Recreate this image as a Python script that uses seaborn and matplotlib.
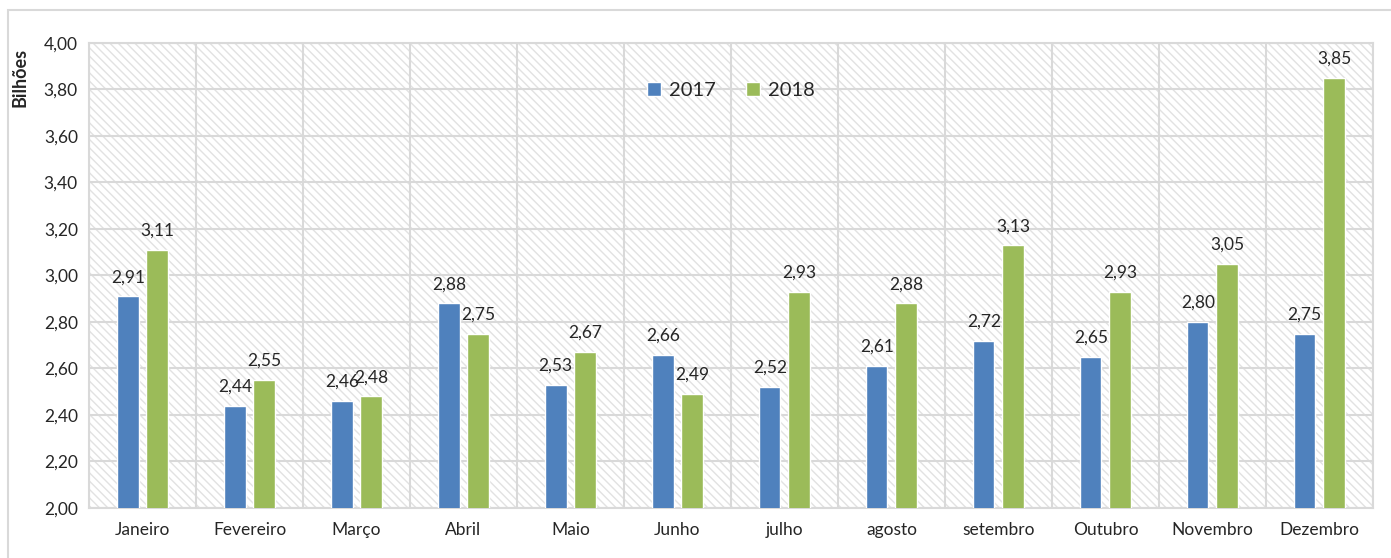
import seaborn as sns
import pandas as pd
import matplotlib.pyplot as plt
from matplotlib.patches import Rectangle

months = ["Janeiro", "Fevereiro", "Março", "Abril", "Maio", "Junho",
          "julho", "agosto", "setembro", "Outubro", "Novembro", "Dezembro"]
vals_2017 = [2.91, 2.44, 2.46, 2.88, 2.53, 2.66, 2.52, 2.61, 2.72, 2.65, 2.80, 2.75]
vals_2018 = [3.11, 2.55, 2.48, 2.75, 2.67, 2.49, 2.93, 2.88, 3.13, 2.93, 3.05, 3.85]
years = ["2017", "2018"]
y_ticks = [2.0, 2.2, 2.4, 2.6, 2.8, 3.0, 3.2, 3.4, 3.6, 3.8, 4.0]

df = pd.DataFrame({
    "mes": months * 2,
    "ano": [years[0]] * 12 + [years[1]] * 12,
    "valor": vals_2017 + vals_2018,
})

sns.set_style("white")
plt.rcParams['font.family'] = ['Lato', 'DejaVu Sans']
grid_c = "#d9d9d9"

fig = plt.figure(figsize=(13.91, 5.58), dpi=100)
ax = fig.add_axes([0.064, 0.0896, 0.923, 0.8334])

# outer chart frame
fig.patches.append(Rectangle((8 / 1391, -0.1), 1.2, 1 - 10 / 558 + 0.1,
                             transform=fig.transFigure, fill=False,
                             edgecolor=grid_c, linewidth=1.5))

sns.barplot(data=df, x="mes", y="valor", hue="ano", order=months,
            palette=["#4F81BD", "#9BBB59"], width=0.55, gap=0.27,
            saturation=1, ax=ax, zorder=3)

# hatched plot area background
ax.add_patch(Rectangle((0, 0), 1, 1, transform=ax.transAxes, facecolor="white",
                       hatch="\\\\\\\\", edgecolor="#e2e2e2", linewidth=0, zorder=0))

ax.set_ylim(2.0, 4.0)
ax.set_xlim(-0.5, 11.5)
ax.set_yticks(y_ticks)
ax.set_yticklabels([f"{v:.2f}".replace(".", ",") for v in y_ticks], fontsize=12.5)
ax.set_xticks(range(12))
ax.set_xticklabels(months, fontsize=12.5)
ax.tick_params(axis="x", length=0, pad=10)
ax.tick_params(axis="y", length=0, pad=8)

for x in [i + 0.5 for i in range(-1, 12)]:
    ax.axvline(x, color=grid_c, linewidth=1.5, zorder=1)
for y in y_ticks:
    ax.axhline(y, color=grid_c, linewidth=1.5, zorder=1)
for s in ax.spines.values():
    s.set_color(grid_c)
    s.set_linewidth(1.5)

for cont in ax.containers:
    ax.bar_label(cont, labels=[f"{v:.2f}".replace(".", ",") for v in cont.datavalues],
                 padding=8, fontsize=12.5)

ax.set_xlabel("")
ax.set_ylabel("Bilhões", fontsize=13, fontweight="bold")
ax.yaxis.set_label_coords(-0.047, 0.925)

ax.legend(loc="upper center", bbox_to_anchor=(0.5, 0.955), ncol=2, frameon=False,
          fontsize=14.5, handlelength=0.7, handleheight=0.7, columnspacing=1.5,
          handletextpad=0.4)

fig.savefig("out.png", dpi=100)
